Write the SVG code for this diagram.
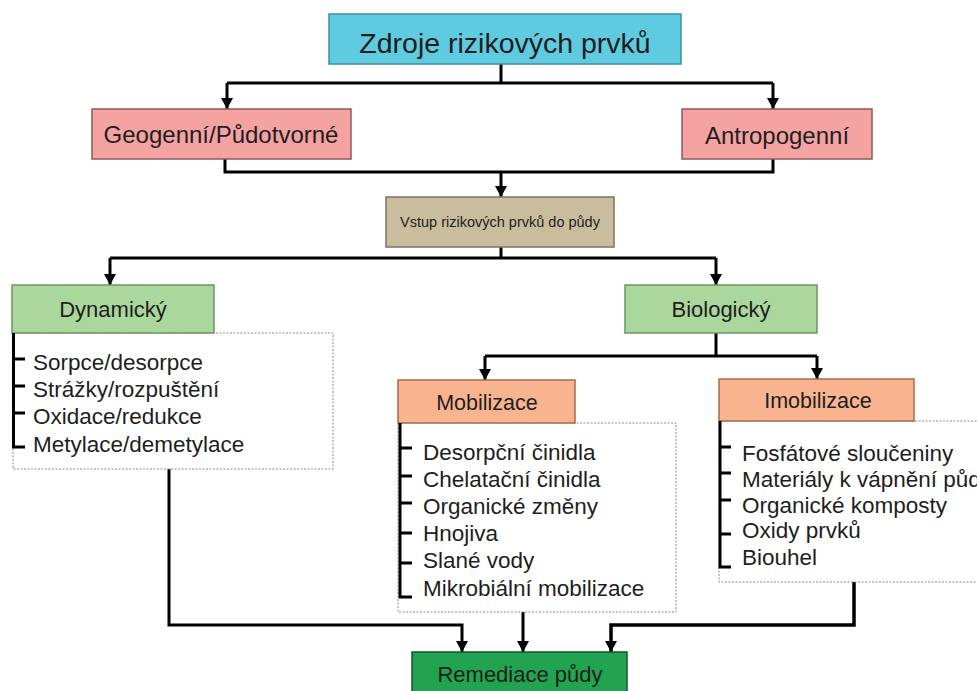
<svg xmlns="http://www.w3.org/2000/svg" width="977" height="691" viewBox="0 0 977 691">
<style>
text{font-family:"Liberation Sans",Arial,sans-serif;fill:#1e1e1e;}
.node{stroke-width:1.5;}
.t{text-anchor:middle;}
.list{fill:#fff;stroke:#8a8a8a;stroke-width:1;stroke-dasharray:2 1.5;}
.item{font-size:22.5px;}
.conn{fill:none;stroke:#000;stroke-width:3;}
.br{fill:none;stroke:#000;stroke-width:3;}
</style>
<defs>
<marker id="arr" viewBox="0 -6 11 12" markerWidth="11" markerHeight="12" refX="11" refY="0" orient="auto" markerUnits="userSpaceOnUse">
<path d="M0,-6 L11,0 L0,6 z" fill="#000"/>
</marker>
</defs>
<rect width="977" height="691" fill="#fff"/>

<g id="connectors">
<path class="conn" d="M501,64 V83 M227,83 H773"/>
<path class="conn" d="M227,83 V109" marker-end="url(#arr)"/>
<path class="conn" d="M773,83 V109" marker-end="url(#arr)"/>
<path class="conn" d="M225,159 V172 H773 V159"/>
<path class="conn" d="M501,172 V197" marker-end="url(#arr)"/>
<path class="conn" d="M501,247 V258 M110,258 H716"/>
<path class="conn" d="M110,258 V285" marker-end="url(#arr)"/>
<path class="conn" d="M716,258 V285" marker-end="url(#arr)"/>
<path class="conn" d="M716,333 V356 M485,356 H817"/>
<path class="conn" d="M485,356 V380" marker-end="url(#arr)"/>
<path class="conn" d="M817,356 V379" marker-end="url(#arr)"/>
<path class="conn" d="M169,469 V625 H462 V652" marker-end="url(#arr)"/>
<path class="conn" d="M523,612 V652" marker-end="url(#arr)"/>
<path class="conn" d="M854,582 V625 H611 V652" marker-end="url(#arr)" style="stroke-width:3.5"/>
</g>

<g id="zdroje">
<rect class="node" x="329" y="14" width="352" height="50" fill="#5fcbe0" stroke="#3f8f9f"/>
<text class="t" x="505" y="53" font-size="28.5">Zdroje rizikových prvků</text>
</g>

<g id="geogenni">
<rect class="node" x="92" y="109" width="259" height="50" fill="#f4a2a2" stroke="#8e5a5a"/>
<text class="t" x="221" y="143" font-size="24">Geogenní/Půdotvorné</text>
</g>

<g id="antropogenni">
<rect class="node" x="682" y="109" width="190" height="50" fill="#f4a2a2" stroke="#8e5a5a"/>
<text class="t" x="777" y="144" font-size="24">Antropogenní</text>
</g>

<g id="vstup">
<rect class="node" x="386" y="197" width="228" height="50" fill="#c9bd9d" stroke="#7d7462"/>
<text class="t" x="500" y="227" font-size="14.5">Vstup rizikových prvků do půdy</text>
</g>

<g id="dynamicky">
<rect class="list" x="13" y="333" width="320" height="136"/>
<rect class="node" x="12" y="285" width="202" height="48" fill="#a9d79c" stroke="#6f9466"/>
<text class="t" x="113" y="317" font-size="22">Dynamický</text>
<path class="br" d="M13.5,333 V447 H25 M13.5,359 H25 M13.5,386 H25 M13.5,413 H25"/>
<text class="item" x="33" y="370">Sorpce/desorpce</text>
<text class="item" x="33" y="397">Strážky/rozpuštění</text>
<text class="item" x="33" y="424">Oxidace/redukce</text>
<text class="item" x="33" y="452">Metylace/demetylace</text>
</g>

<g id="biologicky">
<rect class="node" x="625" y="285" width="192" height="48" fill="#a9d79c" stroke="#6f9466"/>
<text class="t" x="721" y="317" font-size="22">Biologický</text>
</g>

<g id="mobilizace">
<rect class="list" x="398" y="423" width="278" height="189"/>
<rect class="node" x="398" y="380" width="177" height="43" fill="#f8b48e" stroke="#a86c4a"/>
<text class="t" x="487" y="410" font-size="21.5">Mobilizace</text>
<path class="br" d="M400,423 V597 H412 M400,448 H412 M400,476 H412 M400,503 H412 M400,533 H412 M400,563 H412"/>
<text class="item" x="423" y="460">Desorpční činidla</text>
<text class="item" x="423" y="487">Chelatační činidla</text>
<text class="item" x="423" y="514">Organické změny</text>
<text class="item" x="423" y="541">Hnojiva</text>
<text class="item" x="423" y="568">Slané vody</text>
<text class="item" x="423" y="596">Mikrobiální mobilizace</text>
</g>

<g id="imobilizace">
<rect class="list" x="719" y="421" width="270" height="161"/>
<rect class="node" x="719" y="379" width="195" height="42" fill="#f8b48e" stroke="#a86c4a"/>
<text class="t" x="818" y="408" font-size="21.5">Imobilizace</text>
<path class="br" d="M720,421 V567 H731 M720,447 H731 M720,473 H731 M720,500 H731 M720,534 H731"/>
<text class="item" x="742" y="461">Fosfátové sloučeniny</text>
<text class="item" x="742" y="487">Materiály k vápnění půdy</text>
<text class="item" x="742" y="513">Organické komposty</text>
<text class="item" x="742" y="538">Oxidy prvků</text>
<text class="item" x="742" y="565">Biouhel</text>
</g>

<g id="remediace">
<rect class="node" x="412" y="652" width="215" height="48" fill="#22a34f" stroke="#0e5a2a"/>
<text class="t" x="520" y="682" font-size="22">Remediace půdy</text>
</g>
</svg>
